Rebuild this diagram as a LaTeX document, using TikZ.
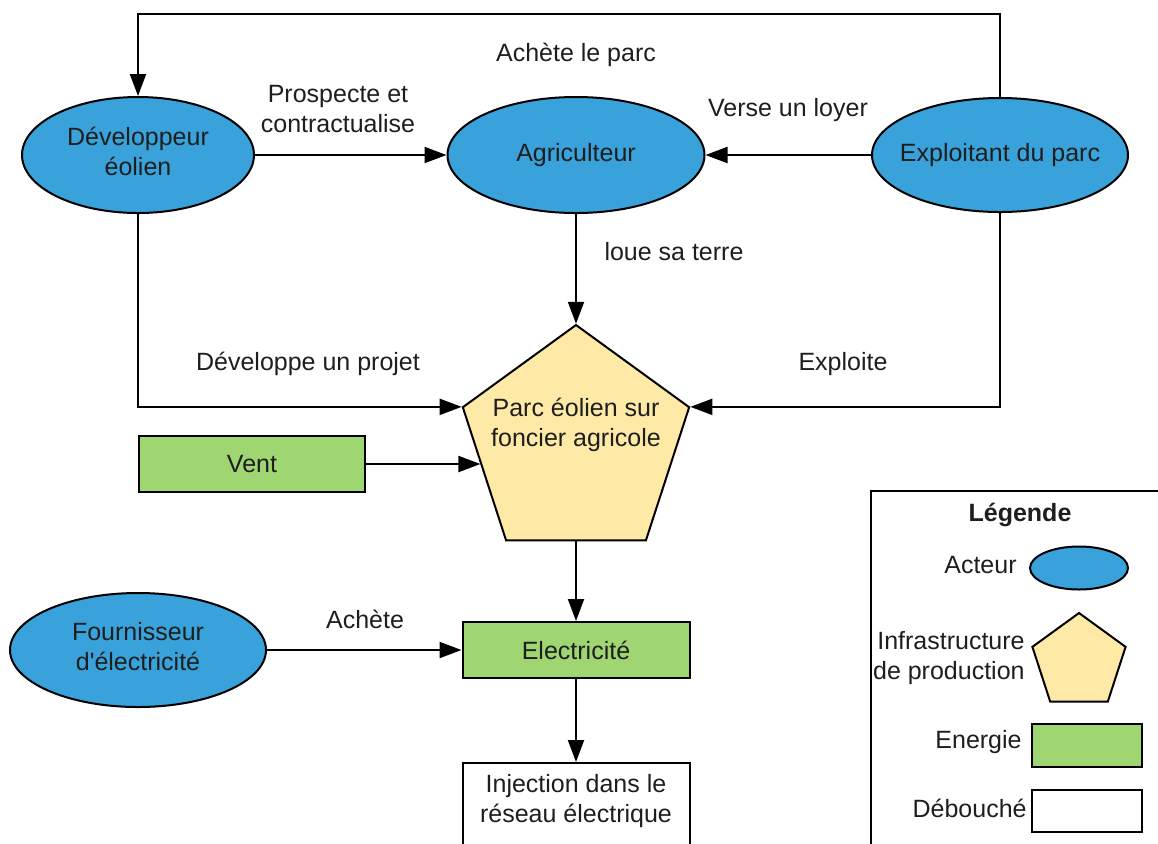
\documentclass[tikz,border=0pt]{standalone}
\usepackage{fontspec}
\setmainfont[Ligatures=TeXOff]{Liberation Sans}
\usetikzlibrary{arrows.meta,shapes.geometric,calc}
\definecolor{actblue}{HTML}{39A2DB}
\definecolor{infyel}{HTML}{FFE9A6}
\definecolor{enggreen}{HTML}{9FD672}
\definecolor{txt}{HTML}{1E1E1E}
\begin{document}
\begin{tikzpicture}[x=0.5pt,y=-0.5pt,
  font=\fontsize{12.5}{15}\selectfont,
  actor/.style={ellipse, draw, line width=1pt, fill=actblue, inner sep=0pt},
  energy/.style={rectangle, draw, line width=1pt, fill=enggreen, inner sep=0pt, text=txt},
  outlet/.style={rectangle, draw, line width=1pt, fill=white, inner sep=0pt},
  infra/.style={regular polygon, regular polygon sides=5, draw, line width=1pt, fill=infyel, inner sep=0pt},
  conn/.style={draw, line width=1pt, -{Triangle[length=11pt,width=8pt]}},
  lbl/.style={align=center, inner sep=0pt, text=txt}]
\useasboundingbox (0,0) rectangle (1158,843);

% actors
\node[actor, minimum width=116pt, minimum height=58pt,
  label={[lbl,yshift=2pt]center:Développeur\\éolien}] (dev) at (138,155) {};
\node[actor, minimum width=128.5pt, minimum height=58pt,
  label={[lbl]center:Agriculteur}] (agri) at (576,155) {};
\node[actor, minimum width=128pt, minimum height=57pt,
  label={[lbl]center:Exploitant du parc}] (expl) at (1000,155) {};
\node[actor, minimum width=128pt, minimum height=57pt,
  label={[lbl,yshift=1.5pt]center:Fournisseur\\d'électricité}] (four) at (138,650) {};

% infrastructure
\node[infra, minimum size=119pt,
  label={[lbl,yshift=9.5pt]center:Parc éolien sur\\foncier agricole}] (parc) at (576,444) {};

% energy / outlet
\node[energy, minimum width=113pt, minimum height=28pt] (vent) at (252,464) {Vent};
\node[energy, minimum width=113.5pt, minimum height=28pt] (elec) at (576,650) {Electricité};
\node[outlet, minimum width=113.5pt, minimum height=53.5pt,
  label={[lbl,yshift=7.5pt]center:Injection dans le\\réseau électrique}] (inj) at (576,816.5) {};

% connectors
\coordinate (top) at (576,14);
\draw[conn] (expl.north) |- (top) -| (dev.north);
\draw[conn] (dev) -- (agri);
\draw[conn] (expl) -- (agri);
\draw[conn] (agri.south) -- (parc.corner 1);
\draw[conn] (dev.south) |- (parc.corner 2);
\draw[conn] (expl.south) |- (parc.corner 5);
\coordinate (ventin) at ($(parc.corner 2)!0.43!(parc.corner 3)$);
\draw[conn] (vent.east) -- (vent.east -| ventin);
\draw[conn] (parc.south) -- (elec.north);
\draw[conn] (four) -- (elec);
\draw[conn] (elec.south) -- (inj.north);

% connector labels
\node[lbl] (l1) at (576,55) {Achète le parc};
\node[lbl] (l2) at (338,109) {Prospecte et\\contractualise};
\node[lbl] (l3) at (788,110) {Verse un loyer};
\node[lbl] (l4) at (674,252) {loue sa terre};
\node[lbl] (l5) at (308,364) {Développe un projet};
\node[lbl] (l6) at (843,364) {Exploite};
\node[lbl] (l7) at (365,619) {Achète};

% legend
\node[draw, line width=1pt, anchor=north west, inner sep=0pt,
  minimum width=155pt, minimum height=190pt] (leg) at (870,490) {};
\node[lbl, font=\fontsize{12.5}{15}\selectfont\bfseries] (legt) at (1020,515) {Légende};
\node[actor, minimum width=49pt, minimum height=21.5pt] (lga) at (1079,568) {};
\node[lbl, anchor=east] (lgat) at (1017,565) {Acteur};
\node[infra, minimum size=49pt] (lgi) at (1079,662) {};
\node[lbl, anchor=east, align=right] (lgit) at (1025,658) {Infrastructure\\de production};
\node[energy, minimum width=55pt, minimum height=21.5pt] (lge) at (1087,745.5) {};
\node[lbl, anchor=east] (lget) at (1022,742) {Energie};
\node[outlet, minimum width=55pt, minimum height=21pt] (lgd) at (1087,811) {};
\node[lbl, anchor=east] (lgdt) at (1027,808) {Débouché};
\end{tikzpicture}
\end{document}
